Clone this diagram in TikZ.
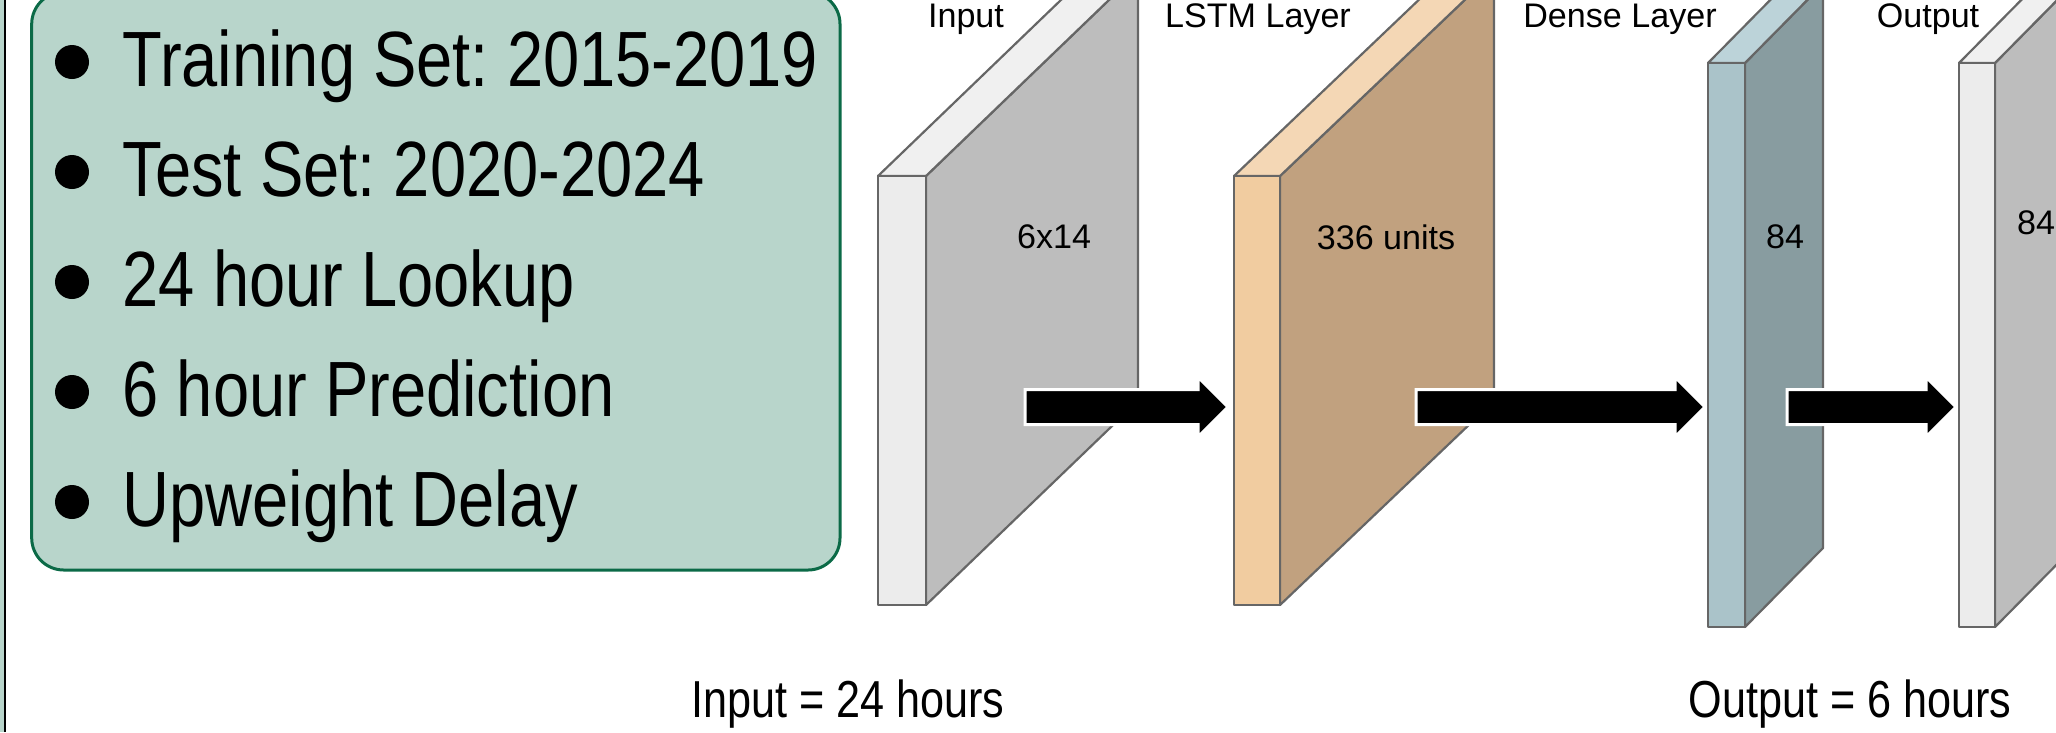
\documentclass[tikz,border=0pt]{standalone}
\usepackage{fontspec}
\setmainfont{Liberation Sans}
\newfontfamily\narrowsf[FakeStretch=0.83]{Liberation Sans}
\usetikzlibrary{calc}
\frenchspacing

% layer colours: front strip, top strip, big side face
\definecolor{inFront}{HTML}{ECECEC}
\definecolor{inTop}{HTML}{F0F0F0}
\definecolor{inSide}{HTML}{BDBDBD}
\definecolor{lstmFront}{HTML}{F1CCA0}
\definecolor{lstmTop}{HTML}{F4D7B5}
\definecolor{lstmSide}{HTML}{C1A17F}
\definecolor{denseFront}{HTML}{AAC3C9}
\definecolor{denseTop}{HTML}{BCD3D9}
\definecolor{denseSide}{HTML}{889CA0}
\definecolor{boxFill}{HTML}{B8D5CB}
\definecolor{boxEdge}{HTML}{0B6A47}
\definecolor{slabGray}{HTML}{666666}

% \slab{x left}{x right}{y bottom}{y top}{depth x}{depth y}{colour prefix}
\newcommand{\slab}[7]{%
  \filldraw[slabedge, fill=#7Side] (#2,#3) -- (#2,#4) -- ++(#5,#6) -- ++(0,{#3-#4}) -- cycle;
  \filldraw[slabedge, fill=#7Top] (#1,#4) -- ++(#5,#6) -- ++({#2-#1},0) -- (#2,#4) -- cycle;
  \filldraw[slabedge, fill=#7Front] (#1,#3) rectangle (#2,#4);
}

\begin{document}
\begin{tikzpicture}[
    slabedge/.style={draw=slabGray, line width=0.22mm, line join=round},
    lbl/.style={font=\fontsize{9.7}{11}\selectfont, inner sep=0pt},
    note/.style={font=\narrowsf\fontsize{14.8}{17}\selectfont, inner sep=0pt, anchor=base},
    item/.style={font=\narrowsf\fontsize{22.3}{26}\selectfont, inner sep=0pt, anchor=base west},
    flow/.style={fill=black, draw=white, line width=0.3mm,
        to path={($(\tikztostart)+(0,0.175)$) -- ($(\tikztotarget)+(-0.30,0.175)$)
            -- ($(\tikztotarget)+(-0.30,0.30)$) -- (\tikztotarget)
            -- ($(\tikztotarget)+(-0.30,-0.30)$) -- ($(\tikztotarget)+(-0.30,-0.175)$)
            -- ($(\tikztostart)+(0,-0.175)$) -- cycle}}
]
    \useasboundingbox (0,0) rectangle (20.56,7.32);
    \clip (0,0) rectangle (20.56,7.32);

    % Edge of the neighbouring panel
    \fill[boxFill] (0,0) rectangle (0.05,7.32);
    \draw[line width=0.15mm] (0.05,0) -- (0.05,7.32);

    % Settings box
    \draw[rounded corners=0.32cm, fill=boxFill, draw=boxEdge, line width=0.3mm]
        (0.317,1.62) rectangle (8.40,7.40);
    \foreach \txt [count=\i] in {Training Set: 2015-2019, Test Set: 2020-2024,
            24 hour Lookup, 6 hour Prediction, Upweight Delay} {
        \fill (0.72,{6.455-(\i-1)*1.10+0.245}) circle (0.17);
        \node[item] (item\i) at (1.22,{6.455-(\i-1)*1.10}) {\txt};
    }

    % Layers
    \slab{8.78}{9.26}{1.27}{5.56}{2.12}{2.04}{in}
    \slab{12.34}{12.80}{1.27}{5.56}{2.14}{2.04}{lstm}
    \slab{17.08}{17.45}{1.05}{6.69}{0.78}{0.79}{dense}
    \slab{19.59}{19.95}{1.05}{6.69}{0.78}{0.79}{in}

    % Layer names
    \node[lbl, anchor=base] (tIn) at (9.66,7.05) {Input};
    \node[lbl, anchor=base] (tLstm) at (12.58,7.05) {LSTM Layer};
    \node[lbl, anchor=base] (tDense) at (16.20,7.05) {Dense Layer};
    \node[lbl, anchor=base] (tOut) at (19.28,7.05) {Output};

    % Sizes
    \node[lbl] (sIn) at (10.54,4.95) {6x14};
    \node[lbl] (sLstm) at (13.86,4.95) {336 units};
    \node[lbl] (sDense) at (17.85,4.95) {84};
    \node[lbl] (sOut) at (20.36,5.09) {84};

    % Arrows
    \coordinate (a1s) at (10.25,3.25);
    \coordinate (a1e) at (12.28,3.25);
    \coordinate (a2s) at (14.16,3.25);
    \coordinate (a2e) at (17.05,3.25);
    \coordinate (a3s) at (17.87,3.25);
    \coordinate (a3e) at (19.56,3.25);
    \draw[flow] (a1s) to (a1e);
    \draw[flow] (a2s) to (a2e);
    \draw[flow] (a3s) to (a3e);

    % Window lengths
    \node[note] (winIn) at (8.48,0.15) {Input = 24 hours};
    \node[note] (winOut) at (18.50,0.15) {Output = 6 hours};
\end{tikzpicture}
\end{document}
